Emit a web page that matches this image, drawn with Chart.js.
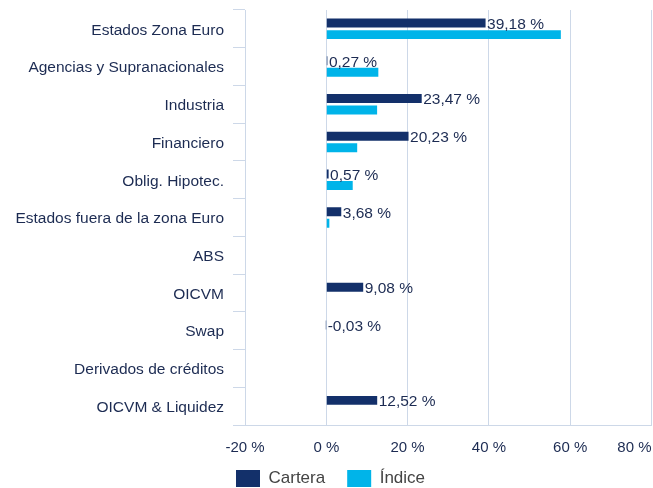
<!DOCTYPE html>
<html><head><meta charset="utf-8">
<script src="https://cdn.jsdelivr.net/npm/chart.js@4.4.1/dist/chart.umd.min.js"></script>
<style>html,body{margin:0;padding:0;background:#fff;}</style>
</head><body>
<canvas id="c" width="653" height="488"></canvas>
<script>
const categories = ['Estados Zona Euro','Agencias y Supranacionales','Industria','Financiero','Oblig. Hipotec.','Estados fuera de la zona Euro','ABS','OICVM','Swap','Derivados de créditos','OICVM & Liquidez'];
const seriesNames = ['Cartera','Índice'];
const cartera = [39.18, 0.27, 23.47, 20.23, 0.57, 3.68, null, 9.08, -0.03, null, 12.52];
const indice = [57.7, 12.8, 12.5, 7.6, 6.5, 0.75, null, null, null, null, null];
const xTickValues = [-20, 0, 20, 40, 60, 80];

const FONT = '"Liberation Sans", Arial, Helvetica, sans-serif';
const TEXT = '#1c2b52';
const GRID = '#cdd8e8';
const NAVY = '#13306a';
const CYAN = '#00b4e9';

const fmt = v => v.toFixed(2).replace('.', ',') + ' %';

const barLabels = {
  id: 'barLabels',
  afterDatasetsDraw(chart) {
    const ctx = chart.ctx;
    const meta = chart.getDatasetMeta(0);
    ctx.save();
    ctx.font = '15.5px ' + FONT;
    ctx.fillStyle = TEXT;
    ctx.textAlign = 'left';
    ctx.textBaseline = 'middle';
    meta.data.forEach((el, i) => {
      const v = cartera[i];
      if (v == null) return;
      const x = Math.max(el.x, el.base) + 1.5;
      ctx.fillText(fmt(v), x, el.y + 1.5);
    });
    ctx.restore();
  }
};

const tweaks = {
  id: 'tweaks',
  afterLayout(chart) {
    const lg = chart.legend;
    if (lg) {
      const pad = lg.options.labels.padding;
      const dx = 236 - (lg.left + pad);
      const dy = 470 - (lg.top + pad);
      lg.left += dx; lg.top += dy;
      lg.right = chart.width + 50; lg.bottom = chart.height + 50;
      lg.width = lg.right - lg.left; lg.height = lg.bottom - lg.top;
    }
  },
  beforeDraw(chart) {
    const xs = chart.scales.x;
    const items = xs.getLabelItems(chart.chartArea);
    const last = items[items.length - 1];
    if (last) { last.options.textAlign = 'right'; }
  }
};

new Chart(document.getElementById('c'), {
  type: 'bar',
  data: {
    labels: categories,
    datasets: [
      { label: seriesNames[0], data: cartera, backgroundColor: NAVY, borderWidth: 0, barPercentage: 0.78, categoryPercentage: 0.61 },
      { label: seriesNames[1], data: indice, backgroundColor: CYAN, borderWidth: 0, barPercentage: 0.78, categoryPercentage: 0.61 }
    ]
  },
  options: {
    indexAxis: 'y',
    responsive: false,
    animation: false,
    devicePixelRatio: 1,
    layout: { padding: { top: 10, right: 1.5, bottom: 0, left: 0 } },
    scales: {
      x: {
        min: -20, max: 80,
        afterBuildTicks(s) { s.ticks = xTickValues.map(v => ({ value: v })); },
        afterFit(s) { s.paddingRight = 0; s.paddingLeft = 0; s.height = 30; },
        grid: { color: GRID, drawTicks: false, lineWidth: 1 },
        border: { color: GRID },
        ticks: { padding: 14, color: TEXT, font: { family: FONT, size: 15 }, callback: v => v + ' %' }
      },
      y: {
        afterFit(s) { s.width = 245; s.paddingTop = 0; s.paddingBottom = 0; },
        grid: { drawOnChartArea: false, offset: true, tickLength: 12, color: GRID },
        border: { color: GRID },
        ticks: { padding: 9, labelOffset: 1.5, color: TEXT, font: { family: FONT, size: 15.5 } }
      }
    },
    plugins: {
      legend: {
        position: 'bottom', align: 'start', maxHeight: 33,
        labels: { boxWidth: 24, boxHeight: 17, padding: 22, color: '#444', font: { family: FONT, size: 17 } }
      },
      tooltip: { enabled: false }
    }
  },
  plugins: [barLabels, tweaks]
});
</script>
</body></html>
